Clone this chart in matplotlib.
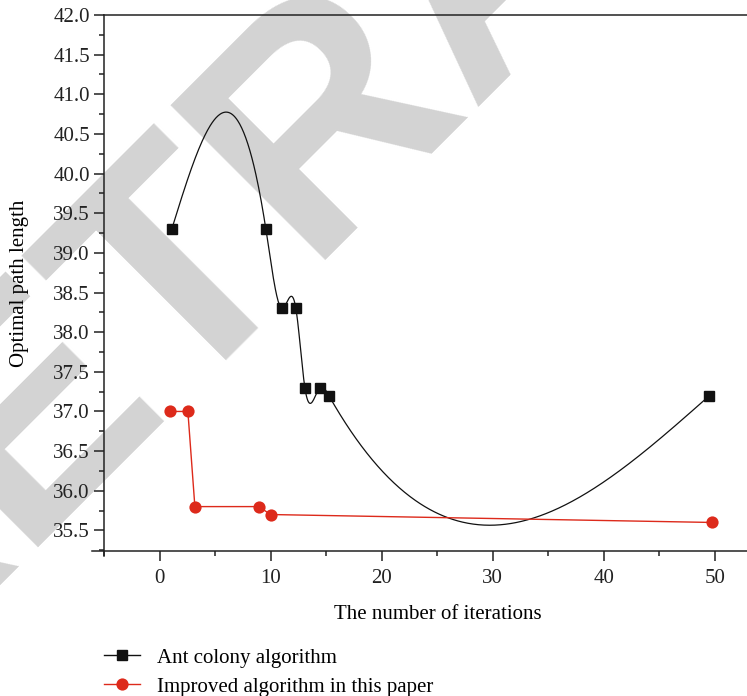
import numpy as np
import matplotlib
matplotlib.use("Agg")
import matplotlib.pyplot as plt
from matplotlib.ticker import MultipleLocator, FormatStrFormatter
from matplotlib.lines import Line2D

# ---- data ----
ant_x = [1.1, 9.57, 11.0, 12.27, 13.08, 14.43, 15.24, 49.5]
ant_y = [39.3, 39.3, 38.3, 38.3, 37.3, 37.3, 37.2, 37.2]
imp_x = [0.9, 2.55, 3.18, 8.94, 9.99, 49.74]
imp_y = [37.0, 37.0, 35.8, 35.8, 35.7, 35.6]
series_names = ["Ant colony algorithm", "Improved algorithm in this paper"]
x_label = "The number of iterations"
y_label = "Optimal path length"
watermark = "RETRACTED"


def natural_spline(x, y, n=800):
    x = np.asarray(x, float)
    y = np.asarray(y, float)
    k = len(x)
    h = np.diff(x)
    A = np.zeros((k, k))
    r = np.zeros(k)
    A[0, 0] = 1
    A[-1, -1] = 1
    for i in range(1, k - 1):
        A[i, i - 1] = h[i - 1]
        A[i, i] = 2 * (h[i - 1] + h[i])
        A[i, i + 1] = h[i]
        r[i] = 6 * ((y[i + 1] - y[i]) / h[i] - (y[i] - y[i - 1]) / h[i - 1])
    M = np.linalg.solve(A, r)
    xs = np.linspace(x[0], x[-1], n)
    idx = np.clip(np.searchsorted(x, xs) - 1, 0, k - 2)
    x0, x1 = x[idx], x[idx + 1]
    hh = x1 - x0
    a = (x1 - xs) / hh
    b = (xs - x0) / hh
    ys = (a * y[idx] + b * y[idx + 1]
          + ((a ** 3 - a) * M[idx] + (b ** 3 - b) * M[idx + 1]) * hh ** 2 / 6)
    return xs, ys


W, H = 747, 696
fig = plt.figure(figsize=(W / 100, H / 100), dpi=100)
plt.rcParams['font.family'] = ['Liberation Serif', 'DejaVu Serif']

# watermark (behind everything)
fig.text(-144 / W, 1 - 708.5 / H, watermark, fontsize=229, fontweight='bold',
         family='Liberation Sans', color='#d3d3d3', rotation=45,
         rotation_mode='anchor', ha='left', va='baseline', zorder=-10)

xmin, xmax = -5, 55
ymin, ymax = 35.24, 42.0
left = 104 / W
bottom = 1 - 551 / H
top = 1 - 15 / H
px_per_unit = 111.1 / 10
width = (xmax - xmin) * px_per_unit / W
ax = fig.add_axes([left, bottom, width, top - bottom])
ax.set_zorder(1)
ax.set_facecolor('none')
ax.set_xlim(xmin, xmax)
ax.set_ylim(ymin, ymax)

sx, sy = natural_spline(ant_x, ant_y)
ax.plot(sx, sy, color='#111111', lw=0.9, zorder=3)
ax.plot(ant_x, ant_y, ls='none', marker='s', ms=7.8, color='#111111', zorder=4)
ax.plot(imp_x, imp_y, color='#dd2a1b', lw=1.0, marker='o', ms=8.8,
        markeredgewidth=0, zorder=4)

for s in ax.spines.values():
    s.set_linewidth(1.1)
    s.set_color('#222222')
ax.spines['right'].set_visible(False)
ax.spines['bottom'].set_bounds(xmin - 12 / px_per_unit, xmax)
ax.spines['left'].set_bounds(ymin - 5 / 79.33, ymax)

ax.xaxis.set_major_locator(MultipleLocator(10))
ax.xaxis.set_minor_locator(MultipleLocator(5))
ax.yaxis.set_major_locator(MultipleLocator(0.5))
ax.yaxis.set_minor_locator(MultipleLocator(0.25))
ax.yaxis.set_major_formatter(FormatStrFormatter('%.1f'))
ax.tick_params(which='major', direction='out', length=7.2, width=1.1,
               labelsize=15, colors='#222222', top=False, right=False)
ax.tick_params(which='minor', direction='out', length=3.8, width=1.1,
               colors='#222222', top=False, right=False)
ax.tick_params(axis='x', pad=6)
ax.tick_params(axis='y', pad=3)

ax.set_xlabel(x_label, fontsize=15)
ax.xaxis.set_label_coords((438 - 104) / (width * W),
                          -(605 - 551) / ((top - bottom) * H))
ax.xaxis.label.set_va('top')
fig.text(20 / W, 1 - 283 / H, y_label, fontsize=15, rotation=90,
         ha='center', va='center')

handles = [
    Line2D([], [], color='#111111', lw=1.0, marker='s', ms=7.8),
    Line2D([], [], color='#dd2a1b', lw=1.0, marker='o', ms=8.8, markeredgewidth=0),
]
fig.legend(handles, series_names, loc='upper left',
           bbox_to_anchor=(104 / W, 1 - 648 / H), frameon=False,
           fontsize=15, handlelength=1.73, handletextpad=0.82,
           borderpad=0, borderaxespad=0, labelspacing=0.45)

fig.savefig('out.png', dpi=100)
